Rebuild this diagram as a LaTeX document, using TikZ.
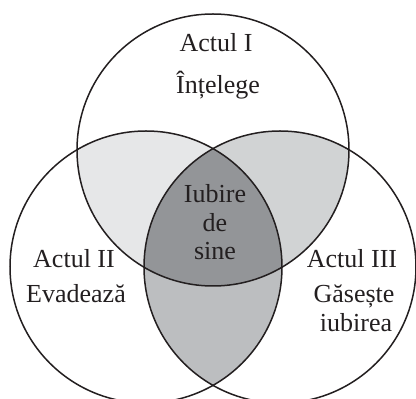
\documentclass[tikz,border=0pt]{standalone}
\usepackage{fontspec}
\setmainfont{Liberation Serif}
\usepackage{xcolor}
\usepackage{tikz}

\definecolor{inkgray}{HTML}{231F20}
\definecolor{shadeA}{HTML}{E6E7E8}
\definecolor{shadeB}{HTML}{D1D3D4}
\definecolor{shadeC}{HTML}{BCBEC0}
\definecolor{shadeD}{HTML}{939598}

\tikzset{
  ring/.style={draw=inkgray, line width=1.5pt},
  lbl/.style={anchor=base, text=inkgray, inner sep=0pt,
    font=\fontsize{26}{30}\selectfont},
}

\begin{document}
\begin{tikzpicture}[x=1pt, y=1pt]
            \useasboundingbox (0,0) rectangle (416,399);

            \coordinate (ctop) at (213,249);
            \coordinate (cleft) at (146,132);
            \coordinate (cright) at (280,132);

            % pairwise overlaps
            \begin{scope}
                \clip (ctop) circle[radius=136pt];
                \fill[shadeA] (cleft) circle[radius=136pt];
            \end{scope}
            \begin{scope}
                \clip (ctop) circle[radius=136pt];
                \fill[shadeB] (cright) circle[radius=136pt];
            \end{scope}
            \begin{scope}
                \clip (cleft) circle[radius=136pt];
                \fill[shadeC] (cright) circle[radius=136pt];
            \end{scope}
            % all three
            \begin{scope}
                \clip (ctop) circle[radius=136pt];
                \clip (cleft) circle[radius=136pt];
                \fill[shadeD] (cright) circle[radius=136pt];
            \end{scope}

            \draw[ring] (ctop) circle[radius=136pt];
            \draw[ring] (cleft) circle[radius=136pt];
            \draw[ring] (cright) circle[radius=136pt];

            \node[lbl] (act1) at (216,347) {Actul I};
            \node[lbl] (verb1) at (218,305) {Înțelege};

            \node[lbl] (act2) at (74,131) {Actul II};
            \node[lbl] (verb2) at (76,96) {Evadează};

            \node[lbl] (act3) at (352,131) {Actul III};
            \node[lbl] (verb3a) at (354,96) {Găsește};
            \node[lbl] (verb3b) at (356,67) {iubirea};

            \node[lbl] (self1) at (215,196) {Iubire};
            \node[lbl] (self2) at (215,167) {de};
            \node[lbl] (self3) at (215,139) {sine};
        \end{tikzpicture}
\end{document}
